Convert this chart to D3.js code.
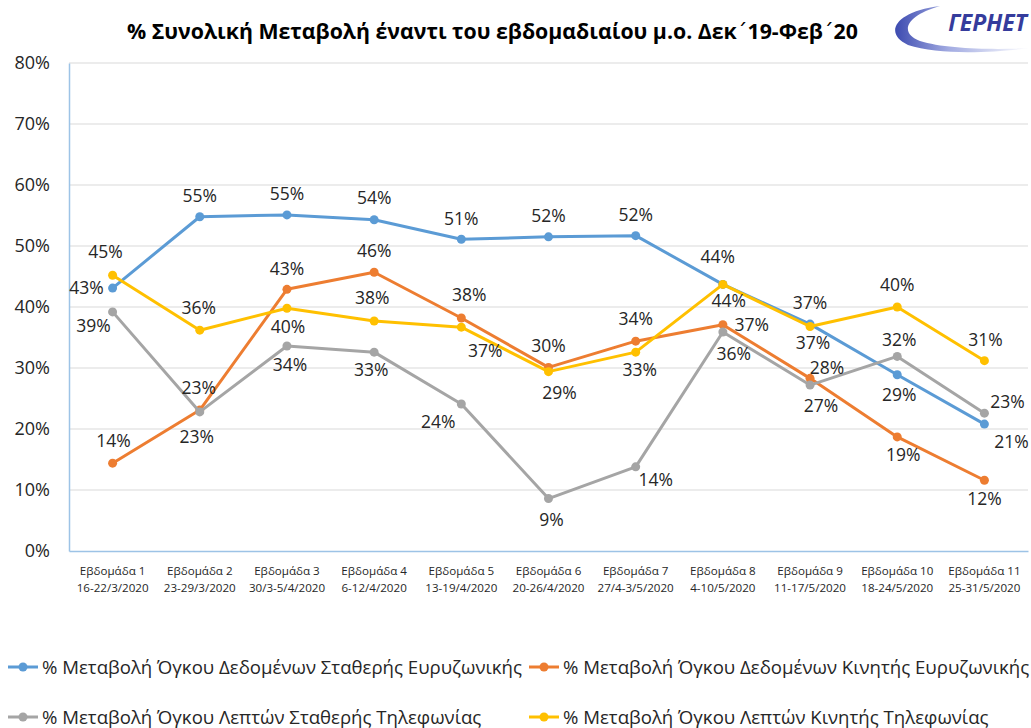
<!DOCTYPE html>
<html><head><meta charset="utf-8">
<script src="https://cdn.jsdelivr.net/npm/d3@7"></script>
<style>
html,body{margin:0;padding:0;background:#fff;}
svg{display:block;}
text{font-family:"Open Sans","Noto Sans",sans-serif;}
</style>
</head><body>
<svg id="chart" width="1031" height="728"></svg>
<script>
// ---------------- DATA ----------------
const weeks = ["Εβδομάδα 1","Εβδομάδα 2","Εβδομάδα 3","Εβδομάδα 4","Εβδομάδα 5","Εβδομάδα 6","Εβδομάδα 7","Εβδομάδα 8","Εβδομάδα 9","Εβδομάδα 10","Εβδομάδα 11"];
const weekDates = ["16-22/3/2020","23-29/3/2020","30/3-5/4/2020","6-12/4/2020","13-19/4/2020","20-26/4/2020","27/4-3/5/2020","4-10/5/2020","11-17/5/2020","18-24/5/2020","25-31/5/2020"];
const seriesNames = [
  "% Μεταβολή Όγκου Δεδομένων Σταθερής Ευρυζωνικής",
  "% Μεταβολή Όγκου Δεδομένων Κινητής Ευρυζωνικής",
  "% Μεταβολή Όγκου Λεπτών Σταθερής Τηλεφωνίας",
  "% Μεταβολή Όγκου Λεπτών Κινητής Τηλεφωνίας"
];
const fixedBroadband  = [43.1, 54.8, 55.1, 54.3, 51.1, 51.5, 51.7, 43.7, 37.2, 28.9, 20.8];
const mobileBroadband = [14.4, 23.1, 42.9, 45.7, 38.2, 30.1, 34.4, 37.1, 28.3, 18.7, 11.6];
const fixedVoice      = [39.2, 22.8, 33.6, 32.6, 24.1, 8.6, 13.8, 35.9, 27.2, 31.9, 22.6];
const mobileVoice     = [45.2, 36.2, 39.8, 37.7, 36.7, 29.4, 32.6, 43.7, 36.8, 40.0, 31.2];
const yTicks = [0, 10, 20, 30, 40, 50, 60, 70, 80];
const titleText = "% Συνολική Μεταβολή έναντι του εβδομαδιαίου μ.ο. Δεκ΄19-Φεβ΄20";
const logoText = "ΓΕΡΗΕΤ";

// ---------------- STYLE / LAYOUT ----------------
const colors = ["#5B9BD5", "#ED7D31", "#A5A5A5", "#FFC000"];
// data-label placement (dx, dy of label centre relative to its point)
const labelOffsets = [
  [[-26,0],[0,-21],[0,-21],[0,-22],[0,-21],[0,-21],[0,-21],[-5,-28],[0,-21],[2,20],[27,18]],
  [[1,-22],[-3,27],[0,-21],[0,-22],[8,-23],[0,-22],[0,-22],[29,0],[17,-11],[6,18],[0,18]],
  [[-19,14],[-1,-24],[3,19],[-3,18],[-23,18],[3,21],[20,13],[11,22],[11,21],[2,-17],[23,-11]],
  [[-7,-24],[-1,-22],[1,18],[-2,-23],[24,24],[11,21],[4,18],[6,16],[3,16],[0,-22],[1,-21]]
];

const seriesValues = [fixedBroadband, mobileBroadband, fixedVoice, mobileVoice];
const svg = d3.select("#chart");

const plot = {left: 69, right: 1028, top: 63, bottom: 551};
const x = d3.scaleBand().domain(weeks).range([plot.left, plot.right]).padding(0);
const y = d3.scaleLinear().domain([0, 80]).range([plot.bottom, plot.top]);
const cx = w => x(w) + x.bandwidth() / 2;

function fitWidth(sel, target) {
  const w = sel.node().getComputedTextLength();
  const fs = parseFloat(sel.attr("font-size"));
  sel.attr("font-size", (fs * target / w).toFixed(2));
}

// title (spacing tonos drawn with DejaVu so it keeps its own advance)
const title = svg.append("text").attr("x", 127).attr("y", 39)
  .attr("font-size", 24).attr("font-weight", "bold").attr("fill", "#000")
  .attr("font-family", "Noto Sans, DejaVu Sans, sans-serif");
titleText.split(/(΄)/).forEach(part => {
  const ts = title.append("tspan").text(part);
  if (part === "΄") ts.attr("font-family", "DejaVu Sans").attr("font-weight", "normal");
});
fitWidth(title, 731);

// logo
const defs = svg.append("defs");
const lg = defs.append("linearGradient").attr("id", "swoosh").attr("x1", "0").attr("x2", "1");
lg.append("stop").attr("offset", "0").attr("stop-color", "#3D4BB0");
lg.append("stop").attr("offset", "0.4").attr("stop-color", "#A3ACE2");
lg.append("stop").attr("offset", "1").attr("stop-color", "#FFFFFF");
svg.append("path")
  .attr("d", "M940,6 C893,12 884,34 908,45 C940,56 1000,52 1030,48 C995,50 945,49 920,41 C899,33 905,16 940,6 Z")
  .attr("fill", "url(#swoosh)");
svg.append("text").attr("x", 1027).attr("y", 31).attr("text-anchor", "end")
  .attr("font-size", 23).attr("font-weight", "bold").attr("font-style", "italic")
  .attr("fill", "#353C9C").attr("font-family", "Liberation Sans, Arial, sans-serif")
  .text(logoText);

// gridlines
svg.append("g").selectAll("line").data(yTicks.filter(t => t > 0)).join("line")
  .attr("x1", plot.left).attr("x2", plot.right)
  .attr("y1", d => y(d)).attr("y2", d => y(d))
  .attr("stroke", "#D9D9D9").attr("stroke-width", 1);

// y axis
const yAxis = d3.axisLeft(y).tickValues(yTicks).tickFormat(d => d + "%").tickSize(0).tickPadding(19);
const gy = svg.append("g").attr("transform", `translate(${plot.left},0)`).call(yAxis);
gy.select(".domain").attr("stroke", "#9DC3E6").attr("stroke-width", 1.5);
gy.selectAll("text").attr("font-size", 18).attr("fill", "#262626")
  .attr("font-family", "Open Sans, sans-serif");

// x axis
const xAxis = d3.axisBottom(x).tickSize(0).tickFormat("");
const gx = svg.append("g").attr("transform", `translate(0,${plot.bottom})`).call(xAxis);
gx.select(".domain").attr("stroke", "#9DC3E6").attr("stroke-width", 1.5);
gx.selectAll(".tick").each(function(d, i) {
  const t = d3.select(this).append("text").attr("text-anchor", "middle")
    .attr("fill", "#262626").attr("font-size", 11.6).attr("font-family", "Open Sans, sans-serif");
  t.append("tspan").attr("x", 0).attr("y", 24).text(d);
  t.append("tspan").attr("x", 0).attr("y", 41).text(weekDates[i]);
});

// lines & markers
const line = d3.line().x((d, i) => cx(weeks[i])).y(d => y(d));
seriesValues.forEach((vals, s) => {
  const g = svg.append("g");
  g.append("path").datum(vals).attr("d", line).attr("fill", "none")
    .attr("stroke", colors[s]).attr("stroke-width", 3).attr("stroke-linejoin", "round");
  g.selectAll("circle").data(vals).join("circle")
    .attr("cx", (d, i) => cx(weeks[i])).attr("cy", d => y(d)).attr("r", 4.5)
    .attr("fill", colors[s]);
});

// data labels
seriesValues.forEach((vals, s) => {
  svg.append("g").selectAll("text").data(vals).join("text")
    .attr("x", (d, i) => cx(weeks[i]) + labelOffsets[s][i][0])
    .attr("y", (d, i) => y(d) + labelOffsets[s][i][1])
    .attr("dy", "0.36em").attr("text-anchor", "middle")
    .attr("font-size", 17.5).attr("fill", "#262626")
    .text(d => Math.round(d) + "%");
});

// legend
const legendPos = [[8, 667], [529, 667], [8, 717], [529, 717]];
const legendTexts = [];
seriesNames.forEach((name, s) => {
  const [lx, ly] = legendPos[s];
  const g = svg.append("g").attr("transform", `translate(${lx},${ly})`);
  g.append("line").attr("x1", 0).attr("x2", 30).attr("y1", 0).attr("y2", 0)
    .attr("stroke", colors[s]).attr("stroke-width", 3);
  g.append("circle").attr("cx", 15).attr("cy", 0).attr("r", 4.5).attr("fill", colors[s]);
  const t = g.append("text").attr("x", 34).attr("y", 0).attr("dy", "0.35em")
    .attr("font-size", 20).attr("fill", "#262626").text(name);
  legendTexts.push(t);
});
// scale legend font so the first entry spans the reference width
{
  const w = legendTexts[0].node().getComputedTextLength();
  const fs = 20 * 480 / w;
  legendTexts.forEach(t => t.attr("font-size", fs.toFixed(2)));
}
</script>
</body></html>
